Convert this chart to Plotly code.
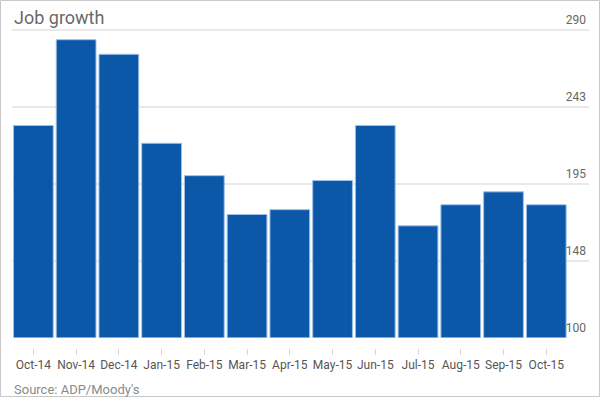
import plotly.graph_objects as go

months = ["Oct-14", "Nov-14", "Dec-14", "Jan-15", "Feb-15", "Mar-15", "Apr-15",
          "May-15", "Jun-15", "Jul-15", "Aug-15", "Sep-15", "Oct-15"]
jobs = [231, 284, 275, 220, 200, 176, 179, 197, 231, 169, 182, 190, 182]
y_tickvals = [100, 147.5, 195, 242.5, 290]
y_ticktext = ["100", "148", "195", "243", "290"]

W, H = 600, 397
L, R = 12, 11
T = 12            # top of plot area (px)
XAX = 348         # y pixel of the x axis (ticks start here)
BASE = 337.5      # y pixel of the 100 baseline
B = H - XAX
pw, ph = W - L - R, H - T - B


def py(pix):
    """pixel row from top -> paper y"""
    return (H - B - pix) / ph


# top of range so that 290 sits at ~30px
ppu = (BASE - 30) / (290 - 100)
y_top = 100 + (BASE - T) / ppu

fig = go.Figure()
fig.add_trace(go.Bar(
    x=list(range(len(months))), y=jobs, base=0,
    marker=dict(color="#0b57a8", line=dict(color="#9cc0e6", width=1)),
    width=0.93, hoverinfo="skip",
))

fig.update_layout(
    width=W, height=H,
    margin=dict(l=L, r=R, t=T, b=B, autoexpand=False),
    paper_bgcolor="white", plot_bgcolor="white",
    showlegend=False,
    font=dict(family="Roboto", color="#555555"),
    xaxis=dict(
        tickmode="array", tickvals=list(range(len(months))), ticktext=months,
        range=[-0.5, 13.0], showgrid=False, zeroline=False, showline=False,
        anchor="free", position=0,
        ticks="outside", ticklen=6, tickcolor="#d8d8d8", tickwidth=1,
        ticklabelstandoff=0,
        tickfont=dict(size=12, color="#555555"), fixedrange=True, automargin=False,
    ),
    yaxis=dict(
        domain=[py(BASE), 1],
        range=[100, y_top], tickmode="array", tickvals=y_tickvals, ticktext=y_ticktext,
        side="right", ticklabelposition="inside", ticklabelshift=-10, ticklabelstandoff=0,
        showgrid=True, gridcolor="#e9e9e9", gridwidth=1.5,
        zeroline=False, showline=False, ticks="",
        tickfont=dict(size=12, color="#666666"), fixedrange=True, automargin=False,
    ),
    annotations=[
        dict(text="Job growth", xref="paper", yref="paper",
             x=-0.5 / pw, y=py(17.5), xanchor="left", yanchor="middle",
             showarrow=False, font=dict(size=18, color="#6a6a6a")),
        dict(text="Source: ADP/Moody's", xref="paper", yref="paper",
             x=0, y=py(389), xanchor="left", yanchor="middle",
             showarrow=False, font=dict(size=13, color="#8a8a8a")),
    ],
    shapes=[
        dict(type="rect", xref="paper", yref="paper",
             x0=(-L + 0.5) / pw, x1=(W - L - 0.5) / pw,
             y0=py(H - 0.5), y1=py(0.5),
             line=dict(color="#c8c8c8", width=1), fillcolor="rgba(0,0,0,0)"),
    ],
)

fig.write_html("out.html", config={"displayModeBar": False},
               post_script="document.body.style.margin='0';document.body.style.overflow='hidden';")
